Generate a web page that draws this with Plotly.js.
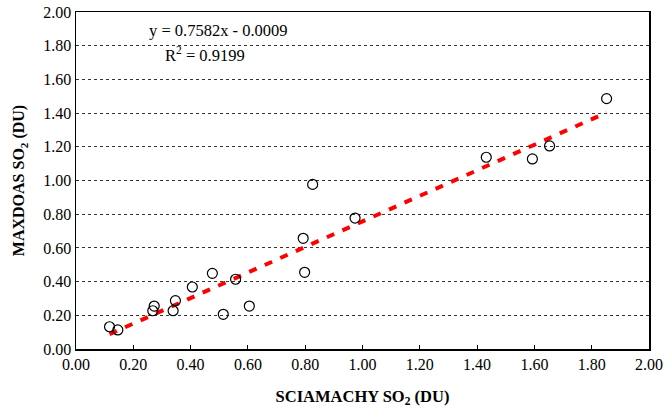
<!DOCTYPE html>
<html>
<head>
<meta charset="utf-8">
<script src="https://cdn.plot.ly/plotly-3.0.1.min.js"></script>
<style>html,body{margin:0;padding:0;background:#fff;}#chart{width:667px;height:411px;}</style>
</head>
<body>
<div id="chart"></div>
<script>
// SCIAMACHY SO2 (DU) vs MAXDOAS SO2 (DU)
const sciamachy = [0.117, 0.146, 0.273, 0.268, 0.347, 0.339, 0.406, 0.476, 0.514, 0.557, 0.605, 0.793, 0.798, 0.826, 0.974, 1.432, 1.593, 1.653, 1.852];
const maxdoas   = [0.132, 0.113, 0.255, 0.227, 0.287, 0.227, 0.368, 0.449, 0.206, 0.414, 0.255, 0.657, 0.455, 0.977, 0.777, 1.138, 1.128, 1.205, 1.486];
const slope = 0.7582;
const intercept = -0.0009;
const equationText = "y = 0.7582x - 0.0009";
const r2Text = "R<sup>2</sup> = 0.9199";
const tickVals = [0, 0.2, 0.4, 0.6, 0.8, 1.0, 1.2, 1.4, 1.6, 1.8, 2.0];
const tickText = ["0.00","0.20","0.40","0.60","0.80","1.00","1.20","1.40","1.60","1.80","2.00"];

const xMin = Math.min(...sciamachy), xMax = Math.max(...sciamachy);
const trendX = [xMin, xMax];
const trendY = trendX.map(v => slope * v + intercept);

const font = {family: "'Liberation Serif', 'Times New Roman', serif", color: "#000"};

const traces = [
  {
    x: trendX, y: trendY, type: "scatter", mode: "lines",
    line: {color: "#ff0000", width: 4, dash: "8px,9px"},
    hoverinfo: "skip"
  },
  {
    x: sciamachy, y: maxdoas, type: "scatter", mode: "markers",
    marker: {symbol: "circle", size: 10, color: "rgba(255,255,255,0)", line: {color: "#000", width: 1.2}}
  }
];

const layout = {
  width: 667, height: 411,
  margin: {l: 76, r: 17.5, t: 12, b: 62},
  paper_bgcolor: "#fff", plot_bgcolor: "#fff",
  showlegend: false,
  font: Object.assign({size: 16}, font),
  xaxis: {
    range: [0, 2], tickvals: tickVals, ticktext: tickText,
    showgrid: false, zeroline: false,
    showline: true, linecolor: "#000", linewidth: 1.5, mirror: true,
    ticks: "inside", ticklen: 4, tickcolor: "#000", tickwidth: 1,
    tickfont: Object.assign({size: 16}, font),
    title: {text: "<b>SCIAMACHY SO<sub>2</sub> (DU)</b>", font: Object.assign({size: 16.5}, font), standoff: 18}
  },
  yaxis: {
    range: [0, 2], tickvals: tickVals, ticktext: tickText,
    showgrid: true, gridcolor: "#333", griddash: "dot", gridwidth: 1,
    zeroline: false,
    showline: true, linecolor: "#000", linewidth: 1.5, mirror: true,
    ticks: "",
    tickfont: Object.assign({size: 16}, font),
    title: {text: "<b>MAXDOAS SO<sub>2</sub> (DU)</b>", font: Object.assign({size: 16}, font), standoff: 14}
  },
  annotations: [
    {x: 0.499, y: 1.893, xref: "x", yref: "y", text: equationText, showarrow: false,
     font: Object.assign({size: 16.5}, font), xanchor: "center", yanchor: "middle"},
    {x: 0.45, y: 1.75, xref: "x", yref: "y", text: r2Text, showarrow: false,
     font: Object.assign({size: 16.5}, font), xanchor: "center", yanchor: "middle"}
  ]
};

Plotly.newPlot("chart", traces, layout, {displayModeBar: false, staticPlot: true});
</script>
</body>
</html>
